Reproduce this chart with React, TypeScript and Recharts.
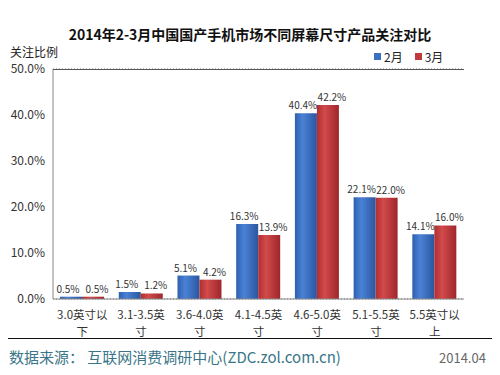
import { BarChart, Bar, XAxis, YAxis, CartesianGrid, LabelList } from "recharts";

const categories = ["3.0英寸以下", "3.1-3.5英寸", "3.6-4.0英寸", "4.1-4.5英寸", "4.6-5.0英寸", "5.1-5.5英寸", "5.5英寸以上"];
const tickLines = [
  ["3.0英寸以", "下"],
  ["3.1-3.5英", "寸"],
  ["3.6-4.0英", "寸"],
  ["4.1-4.5英", "寸"],
  ["4.6-5.0英", "寸"],
  ["5.1-5.5英", "寸"],
  ["5.5英寸以", "上"],
];
const feb = [0.5, 1.5, 5.1, 16.3, 40.4, 22.1, 14.1];
const mar = [0.5, 1.2, 4.2, 13.9, 42.2, 22.0, 16.0];
const yTicks = [0, 10, 20, 30, 40, 50];

const data = categories.map((c, i) => ({ name: c, idx: i, feb: feb[i], mar: mar[i] }));

const FONT = "'Noto Sans CJK SC', 'DejaVu Sans', sans-serif";

function XTick(props: any) {
  const { x, y, payload } = props;
  const lines = tickLines[payload.index] || [payload.value];
  return (
    <g transform={`translate(${x},${y})`}>
      {lines.map((l, i) => (
        <text key={i} x={0} y={12 + i * 17} textAnchor="middle" fontSize={11.5} fill="#333" fontFamily={FONT}>
          {l}
        </text>
      ))}
    </g>
  );
}

const pct = (v: any) => `${Number(v).toFixed(1)}%`;

// value label above a bar, nudged sideways so neighbouring labels don't collide
function makeLabel(shift: number) {
  return (props: any) => {
    const { x, y, width, value } = props;
    return (
      <text x={x + width / 2 + shift} y={y - 4} textAnchor="middle" fontSize={10} fill="#333" fontFamily={FONT}>
        {pct(value)}
      </text>
    );
  };
}

export default function App() {
  return (
    <div
      style={{
        position: "relative",
        width: 500,
        height: 375,
        margin: -8,
        boxSizing: "border-box",
        border: "2px solid #111",
        background: "#fff",
        fontFamily: FONT,
        overflow: "hidden",
      }}
    >
      <div style={{ position: "absolute", left: 0, width: 496, textAlign: "center", top: 22, fontSize: 14, fontWeight: "bold", color: "#111" }}>
        2014年2-3月中国国产手机市场不同屏幕尺寸产品关注对比
      </div>
      <div style={{ position: "absolute", left: 8, top: 43, fontSize: 12, lineHeight: "13px", color: "#222" }}>关注比例</div>
      <div style={{ position: "absolute", left: 372, top: 46, fontSize: 12, color: "#222", display: "flex", alignItems: "center" }}>
        <span style={{ width: 7, height: 7, background: "#3b6fc2", display: "inline-block", marginRight: 3 }} />
        <span>2月</span>
        <span style={{ width: 7, height: 7, background: "#c0393b", display: "inline-block", marginLeft: 12, marginRight: 3 }} />
        <span>3月</span>
      </div>
      <div style={{ position: "absolute", left: 0, top: 0 }}>
        <svg width={0} height={0} style={{ position: "absolute" }}>
          <defs>
            <linearGradient id="gBlue" x1="0" y1="0" x2="1" y2="0">
              <stop offset="0%" stopColor="#2f5fae" />
              <stop offset="35%" stopColor="#4a82d6" />
              <stop offset="100%" stopColor="#2a56a0" />
            </linearGradient>
            <linearGradient id="gRed" x1="0" y1="0" x2="1" y2="0">
              <stop offset="0%" stopColor="#b02e30" />
              <stop offset="35%" stopColor="#d24a4c" />
              <stop offset="100%" stopColor="#9e2629" />
            </linearGradient>
          </defs>
        </svg>
        <BarChart
          width={498}
          height={375}
          data={data}
          margin={{ top: 67, right: 36, bottom: 0, left: 0 }}
          barGap={0}
          barCategoryGap="12%"
        >
          <CartesianGrid horizontal vertical={false} stroke="#777" strokeDasharray="1 2" />
          <XAxis
            dataKey="name"
            interval={0}
            tick={<XTick />}
            tickLine={false}
            axisLine={{ stroke: "#888" }}
            height={78}
          />
          <YAxis
            yAxisId="left"
            domain={[0, 50]}
            ticks={yTicks}
            tickFormatter={pct}
            tick={{ fontSize: 12, fill: "#333", fontFamily: FONT }}
            tickLine={false}
            axisLine={{ stroke: "#888" }}
            width={51}
          />
          <YAxis yAxisId="right" orientation="right" domain={[0, 50]} ticks={yTicks} tick={false} tickLine={false} axisLine={{ stroke: "#555" }} width={0} />
          <Bar yAxisId="left" dataKey="feb" fill="url(#gBlue)" isAnimationActive={false}>
            <LabelList dataKey="feb" content={makeLabel(-3)} />
          </Bar>
          <Bar yAxisId="left" dataKey="mar" fill="url(#gRed)" isAnimationActive={false}>
            <LabelList dataKey="mar" content={makeLabel(4)} />
          </Bar>
        </BarChart>
      </div>
      <div style={{ position: "absolute", left: 51, top: 67, width: 411, borderTop: "1px solid #555" }} />
      <div style={{ position: "absolute", left: 2, top: 336, width: 492, borderTop: "1px solid #111" }} />
      <div style={{ position: "absolute", left: 7, top: 344, fontSize: 15, color: "#3a7688" }}>数据来源：&nbsp;互联网消费调研中心(ZDC.zol.com.cn)</div>
      <div style={{ position: "absolute", left: 437, top: 346, fontSize: 13, color: "#666" }}>2014.04</div>
    </div>
  );
}
